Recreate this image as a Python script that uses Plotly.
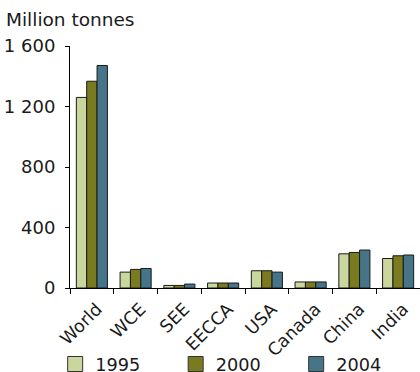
import plotly.graph_objects as go

# Regions and production by year (million tonnes)
regions = ["World", "WCE", "SEE", "EECCA", "USA", "Canada", "China", "India"]
years = ["1995", "2000", "2004"]
values_1995 = [1260, 105, 17, 33, 114, 40, 226, 195]
values_2000 = [1367, 123, 17, 33, 114, 40, 235, 213]
values_2004 = [1471, 129, 26, 33, 105, 40, 251, 218]
y_ticks = [0, 400, 800, 1200, 1600]

series = [values_1995, values_2000, values_2004]
colors = ["#c9d69e", "#7a7b20", "#467488"]
FONT = "DejaVu Sans"

fig = go.Figure()
for name, vals, col in zip(years, series, colors):
    fig.add_trace(go.Bar(
        x=regions, y=vals, name=name, showlegend=False,
        marker=dict(color=col, line=dict(color="#1a1a1a", width=1)),
    ))
    # legend swatch
    fig.add_trace(go.Scatter(
        x=[None], y=[None], mode="markers", name=name,
        marker=dict(symbol="square", size=15, color=col,
                    line=dict(color="#333333", width=1)),
    ))

fig.update_layout(
    width=420, height=372,
    margin=dict(l=70, r=0, t=46, b=84, autoexpand=False),
    paper_bgcolor="white", plot_bgcolor="white",
    font=dict(family=FONT, size=18, color="#1a1a1a"),
    separators=". ",
    barmode="group", bargap=0.29, bargroupgap=0,
    showlegend=True,
    legend=dict(orientation="h", x=-0.0424, xanchor="left",
                y=-0.2397, yanchor="top",
                entrywidth=75.5, entrywidthmode="pixels",
                font=dict(size=17.7), itemwidth=30,
                bgcolor="rgba(0,0,0,0)"),
    annotations=[dict(text="Million tonnes", xref="paper", yref="paper",
                      x=-0.189, y=1.056, xanchor="left", yanchor="bottom",
                      showarrow=False, font=dict(size=18.5))],
)
fig.update_xaxes(
    showline=True, linecolor="black", linewidth=1,
    ticks="outside", ticklen=5, tickcolor="black",
    tickson="boundaries", tickangle=-45, showgrid=False,
    tickfont=dict(size=17.5),
    ticklabelshift=5, ticklabelstandoff=3, automargin=False,
)
fig.update_yaxes(
    range=[0, 1600], tickvals=y_ticks, separatethousands=True,
    showline=True, linecolor="black", linewidth=1,
    ticks="outside", ticklen=4, tickcolor="black",
    showgrid=False, zeroline=False, ticklabelstandoff=6, automargin=False,
)
fig.write_html("out.html")
